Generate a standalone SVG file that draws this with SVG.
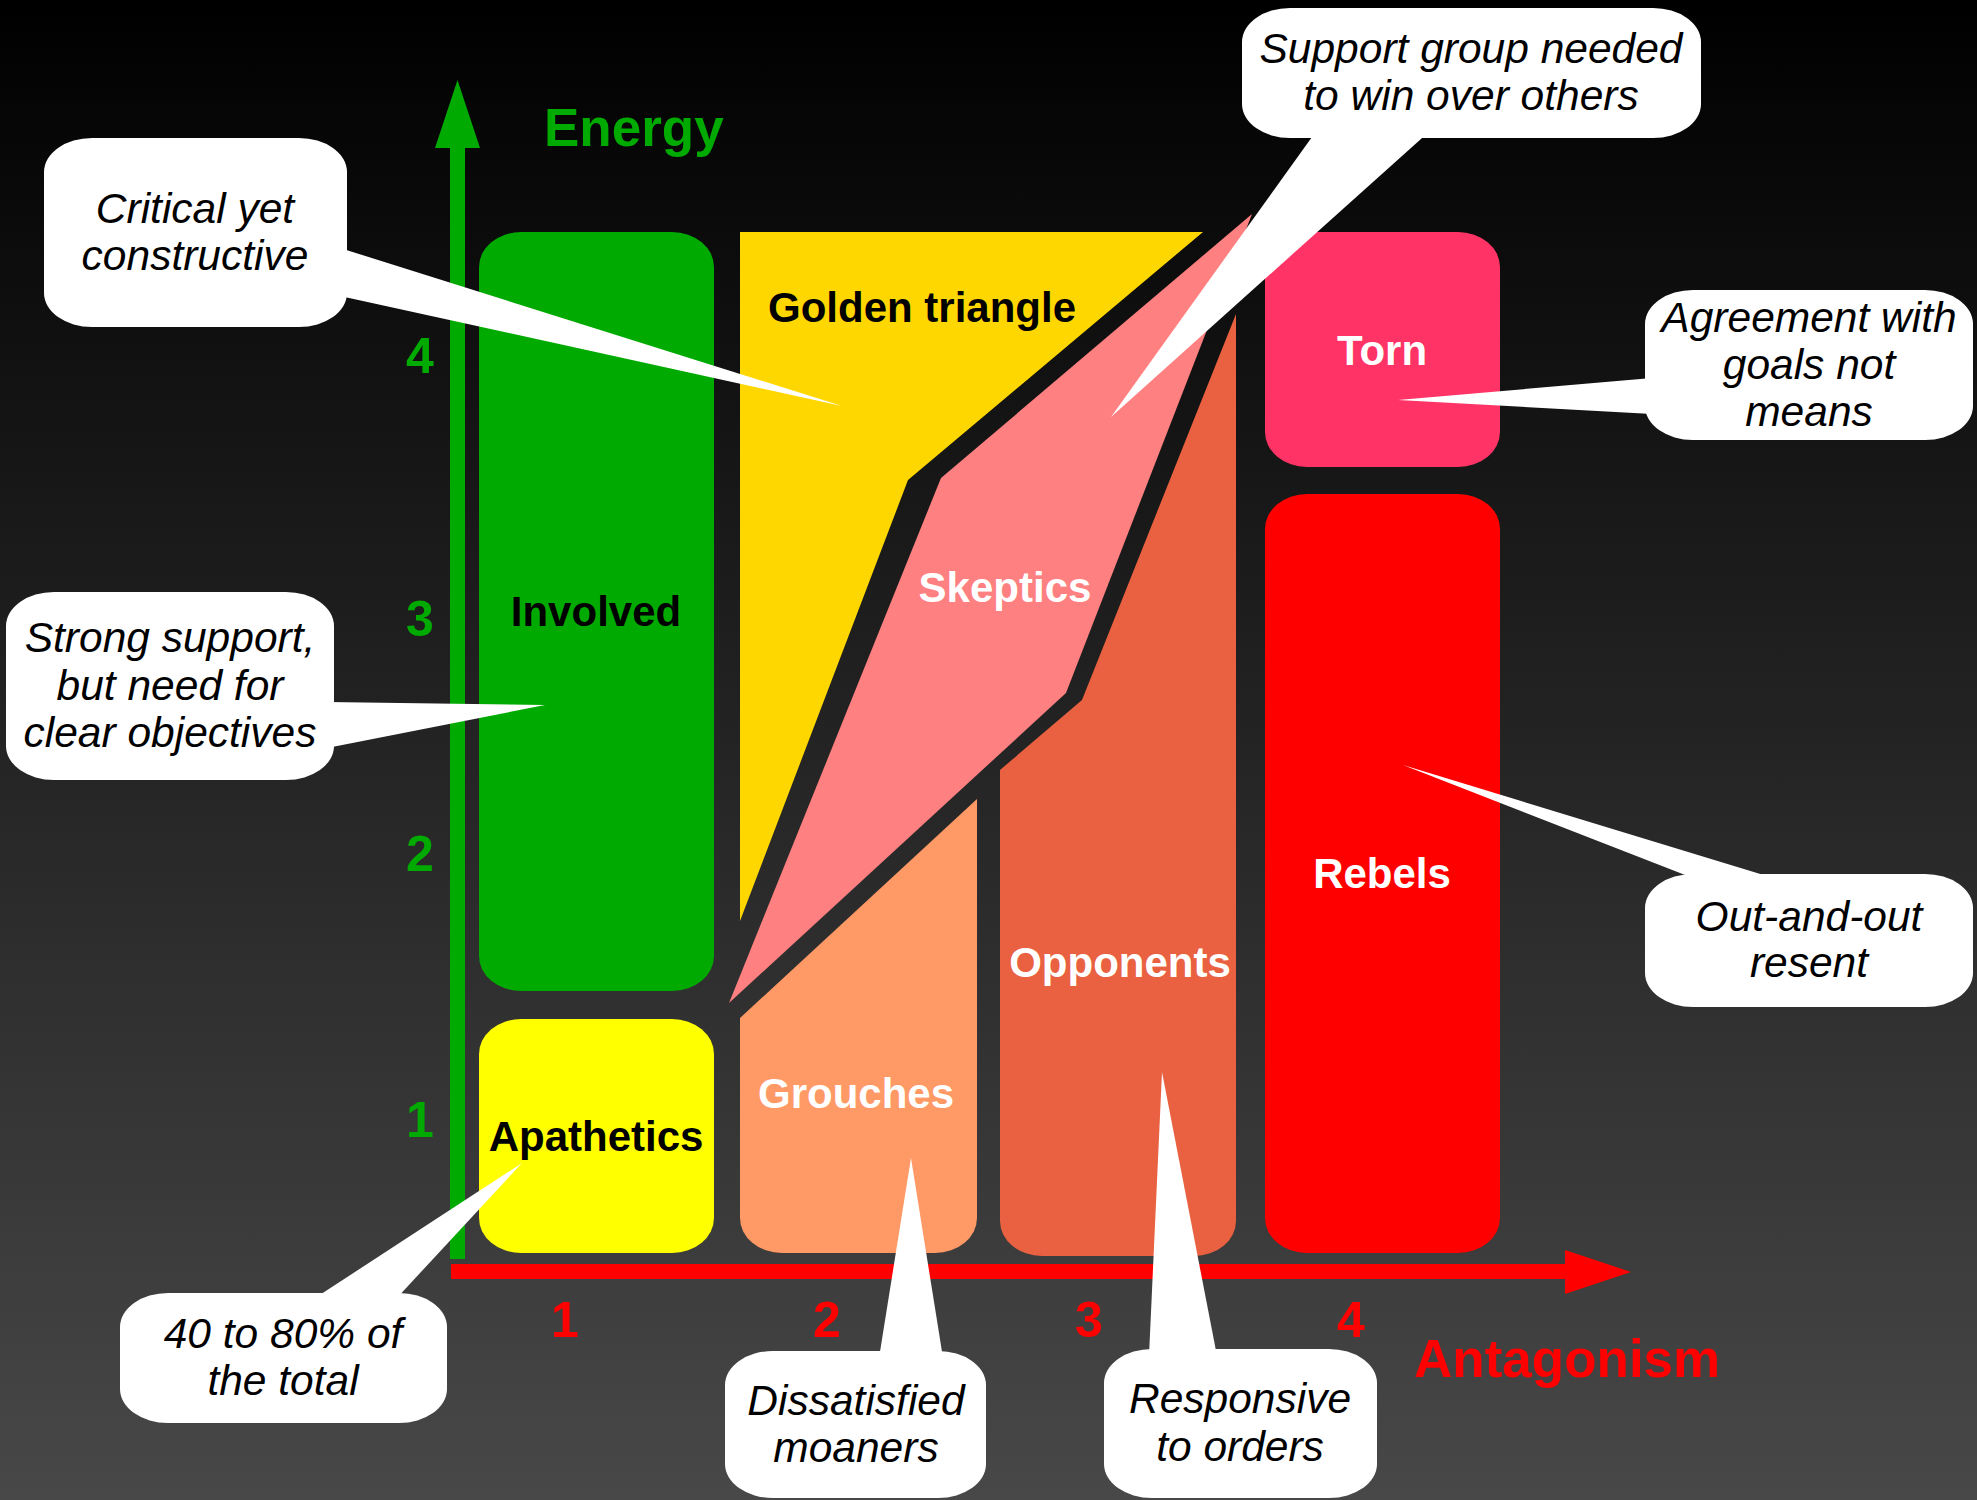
<svg xmlns="http://www.w3.org/2000/svg" width="1977" height="1500" viewBox="0 0 1977 1500">
<defs>
<linearGradient id="bg" x1="0" y1="0" x2="0" y2="1">
<stop offset="0" stop-color="#000000"/>
<stop offset="1" stop-color="#484848"/>
</linearGradient>
<style>
.lbl{font-family:"Liberation Sans",Arial,sans-serif;font-weight:bold;font-size:42px;text-anchor:middle}
.dark{fill:#000}
.light{fill:#fff}
.tick{font-family:"Liberation Sans",Arial,sans-serif;font-weight:bold;font-size:50px;text-anchor:middle}
.axis{font-family:"Liberation Sans",Arial,sans-serif;font-weight:bold;font-size:53px}
.call{fill:#fff}
.ct{font-family:"Liberation Sans",Arial,sans-serif;font-style:italic;font-size:42.5px;text-anchor:middle;fill:#000}
</style>
</defs>
<rect x="0" y="0" width="1977" height="1500" fill="url(#bg)"/>

<g id="axes">
<line x1="457.5" y1="1259" x2="457.5" y2="140" stroke="#00aa00" stroke-width="15"/>
<polygon points="457.5,80 435,148 480,148" fill="#00aa00"/>
<line x1="451" y1="1271.5" x2="1570" y2="1271.5" stroke="#ff0000" stroke-width="15"/>
<polygon points="1631,1272 1565,1250 1565,1294" fill="#ff0000"/>
<text class="axis" x="544" y="146" fill="#00aa00">Energy</text>
<text class="axis" x="1414" y="1377" fill="#ff0000">Antagonism</text>
<g fill="#00aa00">
<text class="tick" x="420" y="373">4</text>
<text class="tick" x="420" y="636">3</text>
<text class="tick" x="420" y="871">2</text>
<text class="tick" x="420" y="1137">1</text>
</g>
<g fill="#ff0000">
<text class="tick" x="565" y="1337">1</text>
<text class="tick" x="827" y="1337">2</text>
<text class="tick" x="1089" y="1337">3</text>
<text class="tick" x="1351" y="1337">4</text>
</g>
</g>

<g id="involved">
<rect x="479" y="232" width="235" height="759" rx="42" ry="35" fill="#00aa00"/>
<text class="lbl dark" x="596" y="626">Involved</text>
</g>
<g id="apathetics">
<rect x="479" y="1019" width="235" height="234" rx="42" ry="35" fill="#ffff00"/>
<text class="lbl dark" x="596" y="1151">Apathetics</text>
</g>
<g id="golden-triangle">
<polygon points="740,232 1203,232 908,480 740,921" fill="#ffd700"/>
<text class="lbl dark" x="922" y="322">Golden triangle</text>
</g>
<g id="skeptics">
<polygon points="1252,214 941,478 729,1003 1066,693" fill="#ff8080"/>
<text class="lbl light" x="1005" y="602">Skeptics</text>
</g>
<g id="grouches">
<path d="M740,1018 L977,799 L977,1218 A42,35 0 0 1 935,1253 L782,1253 A42,35 0 0 1 740,1218 Z" fill="#ff9966"/>
<text class="lbl light" x="856" y="1108">Grouches</text>
</g>
<g id="opponents">
<path d="M1000,770 L1082,700 L1236,314 L1236,1221 A42,35 0 0 1 1194,1256 L1042,1256 A42,35 0 0 1 1000,1221 Z" fill="#e96140"/>
<text class="lbl light" x="1120" y="977">Opponents</text>
</g>
<g id="torn">
<rect x="1265" y="232" width="235" height="235" rx="42" ry="35" fill="#ff3366"/>
<text class="lbl light" x="1382" y="365">Torn</text>
</g>
<g id="rebels">
<rect x="1265" y="494" width="235" height="759" rx="42" ry="35" fill="#ff0000"/>
<text class="lbl light" x="1382" y="888">Rebels</text>
</g>

<g id="connectors" fill="#fff">
<polygon points="340,248 340,296 842,406"/>
<polygon points="327,702 327,748 545,705"/>
<polygon points="1317,130 1431,130 1111,417"/>
<polygon points="1652,378 1652,414 1398,400"/>
<polygon points="1698,880 1780,880 1403,765"/>
<polygon points="312,1300 395,1300 522,1163"/>
<polygon points="879,1358 943,1358 911,1158"/>
<polygon points="1149,1356 1217,1356 1162,1072"/>
</g>

<g id="callout-critical">
<rect class="call" x="44" y="138" width="303" height="189" rx="48" ry="34"/>
<text class="ct" x="195" y="223">Critical yet</text>
<text class="ct" x="195" y="270">constructive</text>
</g>
<g id="callout-strong">
<rect class="call" x="6" y="592" width="328" height="188" rx="48" ry="34"/>
<text class="ct" x="170" y="652">Strong support,</text>
<text class="ct" x="170" y="700">but need for</text>
<text class="ct" x="170" y="747">clear objectives</text>
</g>
<g id="callout-support">
<rect class="call" x="1242" y="8" width="459" height="130" rx="48" ry="34"/>
<text class="ct" x="1471" y="63">Support group needed</text>
<text class="ct" x="1471" y="110">to win over others</text>
</g>
<g id="callout-agreement">
<rect class="call" x="1645" y="290" width="328" height="150" rx="48" ry="34"/>
<text class="ct" x="1809" y="332">Agreement with</text>
<text class="ct" x="1809" y="379">goals not</text>
<text class="ct" x="1809" y="426">means</text>
</g>
<g id="callout-outandout">
<rect class="call" x="1645" y="874" width="328" height="133" rx="48" ry="34"/>
<text class="ct" x="1809" y="931">Out-and-out</text>
<text class="ct" x="1809" y="977">resent</text>
</g>
<g id="callout-total">
<rect class="call" x="120" y="1293" width="327" height="130" rx="48" ry="34"/>
<text class="ct" x="283" y="1348">40 to 80% of</text>
<text class="ct" x="283" y="1395">the total</text>
</g>
<g id="callout-dissatisfied">
<rect class="call" x="725" y="1351" width="261" height="147" rx="48" ry="34"/>
<text class="ct" x="856" y="1415">Dissatisfied</text>
<text class="ct" x="856" y="1462">moaners</text>
</g>
<g id="callout-responsive">
<rect class="call" x="1104" y="1349" width="273" height="149" rx="48" ry="34"/>
<text class="ct" x="1240" y="1413">Responsive</text>
<text class="ct" x="1240" y="1461">to orders</text>
</g>
</svg>
